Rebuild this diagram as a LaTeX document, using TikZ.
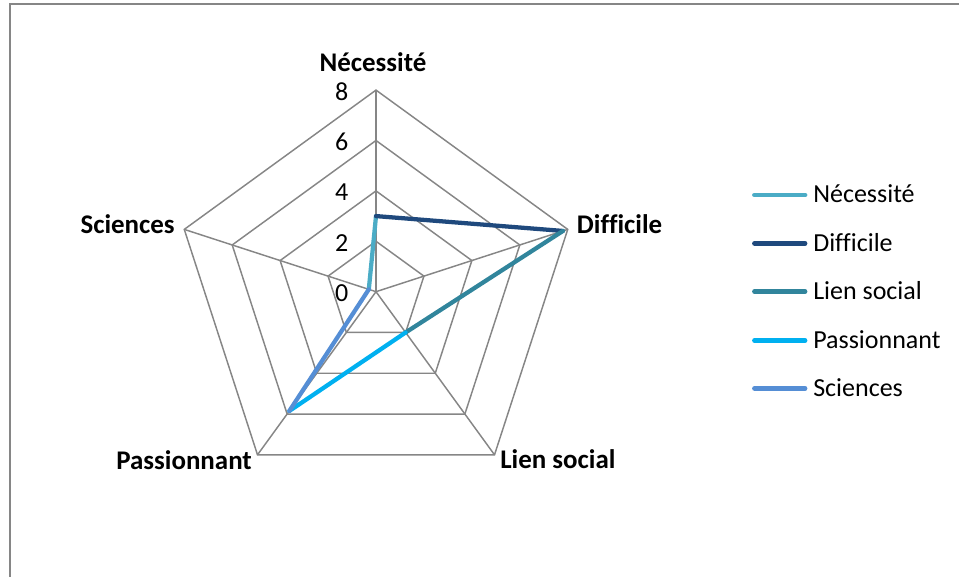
\documentclass[tikz,border=0pt]{standalone}
\usepackage{fontspec}
\setmainfont[Ligatures=CommonOff]{Carlito}
\definecolor{cNec}{HTML}{4BACC6}
\definecolor{cDif}{HTML}{1F497D}
\definecolor{cLien}{HTML}{31859C}
\definecolor{cPass}{HTML}{00B0F0}
\definecolor{cSci}{HTML}{558ED5}
\definecolor{grille}{HTML}{868686}
\begin{document}
\begin{tikzpicture}[x=0.75pt,y=0.75pt,
    every node/.style={inner sep=0pt, font=\fontsize{19.5}{23}\selectfont},
    grid/.style={draw=grille, line width=1.1pt, line join=miter},
    serie/.style={line width=3.2pt, line cap=round, line join=round},
    legende/.style={line width=3.6pt, line cap=round},
    axe/.style={font=\fontsize{20.2}{24}\selectfont\bfseries},
    tick/.style={anchor=base east},
    leg/.style={anchor=base west}]
    \useasboundingbox (0,0) rectangle (959,577);
    % 外框
    \draw[grid] (10,0) -- (10,573) -- (959,573);
    % 雷达图:中心与网格
    \begin{scope}[shift={(376,285.3)}]
        \foreach \v in {2,4,6,8}
            \draw[grid] (90:25.2*\v) -- (18:25.2*\v) -- (-54:25.2*\v) -- (-126:25.2*\v) -- (162:25.2*\v) -- cycle;
        \coordinate (O) at (0,0);
        \foreach \a/\n in {90/nec,18/dif,-54/lien,-126/pass,162/sci}
            \coordinate (\n) at (\a:201.7);
        \foreach \n in {nec,dif,lien,pass,sci}
            \draw[grid] (O) -- (\n);
        % 刻度
        \foreach \v in {0,2,4,6,8}
            \node[tick] (t\v) at (-27.5,25.2*\v-10) {\v};
        % 数据点
        \coordinate (dNec) at (90:25.2*3);
        \coordinate (dDif) at (18:25.2*7.8);
        \coordinate (dLien) at (-54:25.2*2);
        \coordinate (dPass) at (-126:25.2*5.85);
        \coordinate (dSci) at (162:25.2*0.3);
        \draw[serie, cNec] (dSci) -- (dNec);
        \draw[serie, cDif] (dNec) -- (dDif);
        \draw[serie, cLien] (dDif) -- (dLien);
        \draw[serie, cPass] (dLien) -- (dPass);
        \draw[serie, cSci] (dPass) -- (dSci);
    \end{scope}
    % 轴标签
    \node[axe, anchor=base] (lNec) at (373,505.3) {Nécessité};
    \node[axe, anchor=base west] (lDif) at (576.7,343) {Difficile};
    \node[axe, anchor=base east] (lSci) at (175,343) {Sciences};
    \node[axe, anchor=base west] (lLien) at (500,108) {Lien social};
    \node[axe, anchor=base east] (lPass) at (252,107) {Passionnant};
    % 图例
    \foreach \t/\c/\y [count=\i] in {Nécessité/cNec/382,Difficile/cDif/333.7,Lien social/cLien/285.3,Passionnant/cPass/236.3,Sciences/cSci/188.7} {
        \node[leg] (leg\i) at (813,\y-8) {\t};
        \coordinate (legA\i) at (754.5,\y);
        \coordinate (legB\i) at (805,\y);
        \draw[legende, \c] (legA\i) -- (legB\i);
    }
\end{tikzpicture}
\end{document}
